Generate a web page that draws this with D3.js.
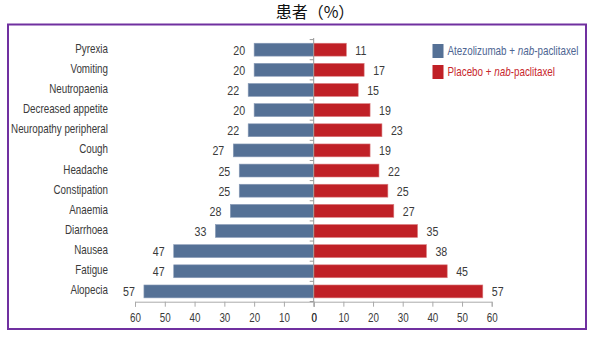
<!DOCTYPE html>
<html><head><meta charset="utf-8">
<script src="https://cdn.jsdelivr.net/npm/d3@7"></script>
<style>
body{margin:0;background:#fff;}
text{font-family:"Liberation Sans",Arial,sans-serif;}
</style></head>
<body><svg id="c" width="599" height="338"></svg>
<script>
const categories = ["Pyrexia","Vomiting","Neutropaenia","Decreased appetite","Neuropathy peripheral","Cough","Headache","Constipation","Anaemia","Diarrhoea","Nausea","Fatigue","Alopecia"];
const atezo = [20,20,22,20,22,27,25,25,28,33,47,47,57];
const placebo = [11,17,15,19,23,19,22,25,27,35,38,45,57];
const ticks = [0,10,20,30,40,50,60];
const title = "患者（%）";
const seriesNames = ["Atezolizumab + ", "Placebo + "];

const svg = d3.select("#c");
const blue = "#557196", red = "#c02026";
const SX = 0.82;

svg.append("text").attr("x",315).attr("y",18).attr("text-anchor","middle")
  .style("font-family","'Noto Sans CJK SC',sans-serif").style("font-size","16px").attr("fill","#111").text(title);

svg.append("rect").attr("x",8).attr("y",24.5).attr("width",578).attr("height",304.5)
  .attr("fill","none").attr("stroke","#7030a0").attr("stroke-width",2);

const x0 = 313.7;
const xR = d3.scaleLinear().domain([0,60]).range([x0, x0+178]);
const xL = d3.scaleLinear().domain([0,60]).range([x0, x0-178.7]);
const y = d3.scaleBand().domain(categories).range([39.6,301.5]).paddingInner(0.36).paddingOuter(0.18);

const g = svg.append("g");
g.selectAll(".bl").data(categories).join("rect")
  .attr("x",(d,i)=>xL(atezo[i])).attr("y",d=>y(d)).attr("width",(d,i)=>x0-xL(atezo[i])).attr("height",y.bandwidth())
  .attr("fill",blue).attr("stroke","#8a9cb8").attr("stroke-width",0.6);
g.selectAll(".br").data(categories).join("rect")
  .attr("x",x0).attr("y",d=>y(d)).attr("width",(d,i)=>xR(placebo[i])-x0).attr("height",y.bandwidth())
  .attr("fill",red).attr("stroke","#d97a7d").attr("stroke-width",0.6);

// value labels (condensed)
g.selectAll(".vl").data(categories).join("text")
  .attr("transform",(d,i)=>`translate(${xL(atezo[i])-9},${y(d)+y.bandwidth()/2+5}) scale(${SX},1)`)
  .attr("text-anchor","end").attr("fill","#3a3a3a").style("font-size","13px").text((d,i)=>atezo[i]);
g.selectAll(".vr").data(categories).join("text")
  .attr("transform",(d,i)=>`translate(${xR(placebo[i])+9},${y(d)+y.bandwidth()/2+5}) scale(${SX},1)`)
  .attr("text-anchor","start").attr("fill","#3a3a3a").style("font-size","13px").text((d,i)=>placebo[i]);

// category labels
g.selectAll(".cl").data(categories).join("text")
  .attr("transform",d=>`translate(108,${y(d)+y.bandwidth()/2+3}) scale(0.785,1)`)
  .attr("text-anchor","end").attr("fill","#3a3a3a").style("font-size","12.5px").text(d=>d);

// vertical axis with ticks at band boundaries
const vb = categories.map(d=>y(d)-y.step()*y.paddingInner()/2);
vb.push(301.5);
svg.append("line").attr("x1",x0).attr("x2",x0).attr("y1",38).attr("y2",302).attr("stroke","#999");
svg.selectAll(".vt").data(vb).join("line").attr("x1",x0-4).attr("x2",x0).attr("y1",d=>d).attr("y2",d=>d).attr("stroke","#999");

// bottom axes
const axR = d3.axisBottom(xR).tickValues(ticks).tickSize(5).tickPadding(7);
const axL = d3.axisBottom(xL).tickValues(ticks).tickSize(5).tickPadding(7);
[axL, axR].forEach(ax=>{
  const a = svg.append("g").attr("transform","translate(0,301.7)").call(ax);
  a.select(".domain").attr("stroke","#aaa");
  a.selectAll(".tick line").attr("stroke","#aaa");
  a.selectAll(".tick text").attr("fill","#3a3a3a").style("font-size","12px")
   .attr("transform",`scale(${SX},1)`);
});

// legend
const leg = svg.append("g");
const lc = [blue, red], ltc = ["#4e6592","#c8282d"];
seriesNames.forEach((n,i)=>{
  const yy = 44 + i*21;
  leg.append("rect").attr("x",432.5).attr("y",yy).attr("width",11).attr("height",14).attr("fill",lc[i]);
  const t = leg.append("text").attr("transform",`translate(447.5,${yy+11}) scale(0.82,1)`).attr("fill",ltc[i]).style("font-size","12px");
  t.append("tspan").text(n);
  t.append("tspan").style("font-style","italic").text("nab");
  t.append("tspan").text("-paclitaxel");
});
</script></body></html>
